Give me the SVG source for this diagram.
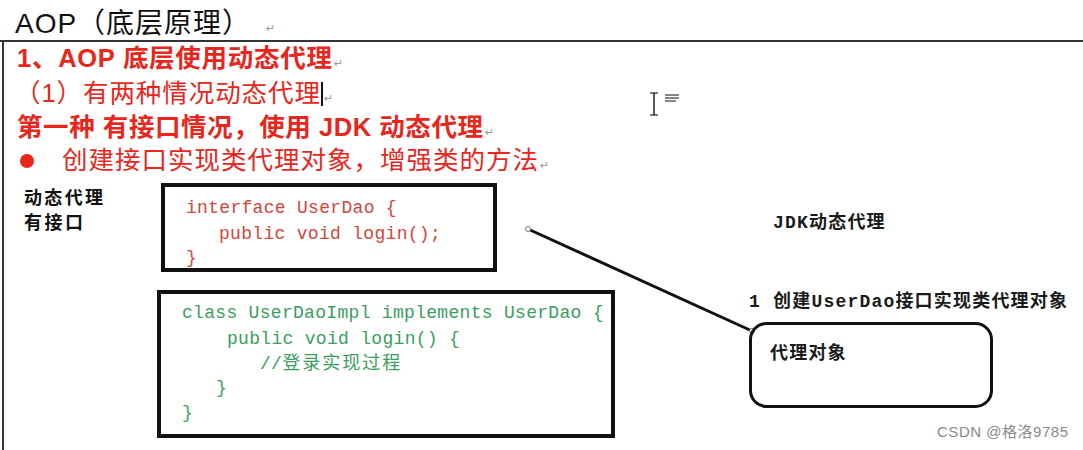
<svg xmlns="http://www.w3.org/2000/svg" width="1083" height="450" viewBox="0 0 1083 450">
<style>
.sans{font-family:"Liberation Sans","Noto Sans CJK SC",sans-serif;}
.red{fill:#e8261c;}
.bold{font-weight:bold;}
.mark{font-family:"DejaVu Sans",sans-serif;font-size:11px;fill:#9a9a9a;}
.code{font-family:"Liberation Mono","Noto Sans CJK SC",monospace;font-size:18px;letter-spacing:0.3px;}
.cred{fill:#d4453d;}
.cgreen{fill:#3a9e5e;}
.lbl{font-family:"Liberation Mono","Noto Sans CJK SC",monospace;font-size:18px;font-weight:bold;letter-spacing:1.2px;fill:#1a1a1a;}
.box{fill:none;stroke:#111;stroke-width:4;}
.conn{stroke:#111;stroke-width:3;fill:none;}
.end{fill:#fff;stroke:#777;stroke-width:1;}
</style>
<rect width="1083" height="450" fill="#fff"/>
<g id="page">
  <line x1="0" y1="41" x2="1083" y2="41" stroke="#333" stroke-width="2"/>
  <line x1="3" y1="41" x2="3" y2="450" stroke="#333" stroke-width="2"/>
</g>
<g id="title">
  <text class="sans" x="15" y="33" font-size="28" fill="#111" textLength="235" lengthAdjust="spacing">AOP（底层原理）</text>
  <text class="mark" x="266" y="32">↵</text>
</g>
<g id="heading">
  <text class="sans red bold" x="17" y="67" font-size="25.5" textLength="315" lengthAdjust="spacing">1、AOP 底层使用动态代理</text>
  <text class="mark" x="334" y="67">↵</text>
  <text class="sans red" x="15" y="102" font-size="25.5" textLength="305" lengthAdjust="spacing">（1）有两种情况动态代理</text>
  <line x1="322" y1="82" x2="322" y2="106" stroke="#111" stroke-width="2"/>
  <text class="mark" x="324" y="102">↵</text>
  <text class="sans red bold" x="17" y="136" font-size="25.5" textLength="466" lengthAdjust="spacing">第一种 有接口情况，使用 JDK 动态代理</text>
  <text class="mark" x="485" y="136">↵</text>
  <circle cx="27" cy="161" r="7" fill="#e8261c"/>
  <text class="sans red" x="62" y="169" font-size="25.5" textLength="476" lengthAdjust="spacing">创建接口实现类代理对象，增强类的方法</text>
  <text class="mark" x="540" y="169">↵</text>
</g>
<g id="cursor">
  <line x1="654" y1="93" x2="654" y2="115" stroke="#222" stroke-width="1.5"/>
  <line x1="650" y1="93" x2="658" y2="93" stroke="#222" stroke-width="1.2"/>
  <line x1="650" y1="115" x2="658" y2="115" stroke="#222" stroke-width="1.2"/>
  <line x1="665" y1="95" x2="679" y2="95" stroke="#333" stroke-width="1.2"/>
  <line x1="665" y1="98" x2="679" y2="98" stroke="#333" stroke-width="1.2"/>
  <line x1="665" y1="101" x2="676" y2="101" stroke="#333" stroke-width="1.2"/>
</g>
<g id="label-left">
  <text class="sans bold" x="24" y="204" font-size="18" fill="#111" textLength="79" lengthAdjust="spacing">动态代理</text>
  <text class="sans bold" x="24" y="229" font-size="18" fill="#111" textLength="59" lengthAdjust="spacing">有接口</text>
</g>
<g id="interface-box">
  <rect class="box" x="163" y="185" width="332" height="85"/>
  <text class="code cred" x="186" y="213">interface UserDao {</text>
  <text class="code cred" x="219" y="239">public void login();</text>
  <text class="code cred" x="186" y="263">}</text>
</g>
<g id="impl-box">
  <rect class="box" x="159" y="292" width="454" height="144"/>
  <text class="code cgreen" x="182" y="318">class UserDaoImpl implements UserDao {</text>
  <text class="code cgreen" x="227" y="344">public void login() {</text>
  <text class="code cgreen" x="260" y="369">//<tspan letter-spacing="2">登录实现过程</tspan></text>
  <text class="code cgreen" x="216" y="393">}</text>
  <text class="code cgreen" x="182" y="418">}</text>
</g>
<g id="connectors">
  <line class="conn" x1="528" y1="229" x2="752" y2="331"/>
  <circle class="end" cx="528" cy="229" r="2.5"/>
  <circle class="end" cx="752" cy="331" r="2.5"/>
</g>
<g id="jdk-label">
  <text class="lbl" x="773" y="228">JDK动态代理</text>
</g>
<g id="step-label">
  <text class="lbl" x="749" y="307">1 创建UserDao接口实现类代理对象</text>
</g>
<g id="proxy-box">
  <rect x="750.5" y="323.5" width="241" height="83" rx="16" fill="none" stroke="#111" stroke-width="3"/>
  <text class="lbl" x="770" y="359">代理对象</text>
</g>
<g id="watermark">
  <text class="sans" x="937" y="437" font-size="15" fill="#8a8a8a" textLength="131" lengthAdjust="spacing">CSDN @格洛9785</text>
</g>
</svg>
